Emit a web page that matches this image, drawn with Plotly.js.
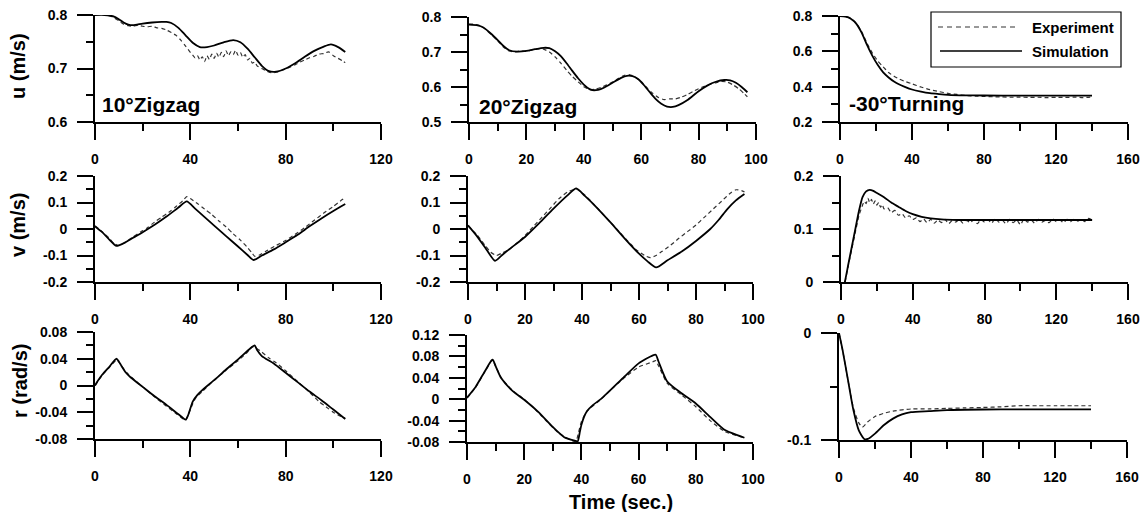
<!DOCTYPE html>
<html>
<head>
<meta charset="utf-8">
<script src="https://cdn.plot.ly/plotly-3.0.1.min.js"></script>
<style>html,body{margin:0;padding:0;background:#fff;}#chart{width:1144px;height:512px;}</style>
</head>
<body>
<div id="chart"></div>
<script>
// ---------------- DATA ----------------
// Row 1: surge velocity u (m/s)
const u10_sim_t = [0,4,8,10,12,14,16,20,24,28,30,32,35,38,41,44,47,50,54,58,61,64,67,70,73,76,80,84,88,92,96,99,102,105];
const u10_sim   = [0.800,0.800,0.797,0.792,0.786,0.782,0.781,0.784,0.786,0.787,0.787,0.785,0.776,0.762,0.748,0.740,0.740,0.743,0.749,0.753,0.749,0.737,0.721,0.705,0.695,0.694,0.700,0.710,0.722,0.733,0.741,0.745,0.740,0.731];
const u10_exp_t = [0,2,4,6,8,10,12,14,16,18,20,22,24,26,28,30,32,34,36,38,40,41,42,43,44,45,46,47,48,49,50,51,52,53,54,55,56,57,58,59,60,61,62,63,64,65,66,67,68,70,72,74,76,78,80,82,84,86,88,90,92,94,96,98,100,102,104,105];
const u10_exp   = [0.801,0.803,0.801,0.799,0.795,0.789,0.783,0.780,0.779,0.781,0.779,0.778,0.779,0.776,0.775,0.772,0.767,0.762,0.753,0.742,0.730,0.725,0.720,0.724,0.716,0.722,0.713,0.724,0.717,0.727,0.719,0.729,0.721,0.730,0.722,0.733,0.724,0.731,0.726,0.734,0.725,0.730,0.721,0.726,0.716,0.719,0.710,0.712,0.705,0.700,0.695,0.692,0.693,0.696,0.699,0.703,0.707,0.712,0.716,0.720,0.723,0.727,0.728,0.731,0.724,0.719,0.714,0.711];

const u20_sim_t = [0,3,5,8,10,12,14,17,20,23,26,28,30,32,34,36,38,40,42,43,45,47,50,53,55,57,59,61,63,65,67,69,71,73,76,80,83,86,89,91,93,95,97];
const u20_sim   = [0.778,0.776,0.770,0.750,0.734,0.717,0.705,0.701,0.703,0.708,0.712,0.711,0.702,0.688,0.668,0.646,0.625,0.607,0.594,0.591,0.592,0.598,0.612,0.626,0.632,0.631,0.622,0.605,0.585,0.566,0.552,0.544,0.543,0.548,0.562,0.588,0.604,0.615,0.620,0.619,0.612,0.600,0.585];
const u20_exp_t = [0,2,4,6,8,10,12,14,16,18,20,22,24,26,28,30,32,34,36,38,40,42,44,46,48,50,52,54,56,58,60,62,64,66,68,70,72,74,76,78,80,82,84,86,88,90,92,94,96,97];
const u20_exp   = [0.780,0.779,0.775,0.763,0.748,0.732,0.714,0.703,0.700,0.703,0.702,0.706,0.709,0.708,0.700,0.686,0.668,0.648,0.630,0.615,0.601,0.593,0.594,0.599,0.606,0.614,0.624,0.633,0.635,0.628,0.615,0.598,0.582,0.570,0.564,0.566,0.566,0.571,0.578,0.587,0.595,0.602,0.608,0.612,0.616,0.614,0.606,0.595,0.580,0.572];

const u30_sim_t = [0,3,6,9,12,15,18,21,24,27,30,33,36,40,45,50,55,60,70,80,100,120,140];
const u30_sim   = [0.800,0.797,0.785,0.757,0.706,0.636,0.574,0.522,0.481,0.452,0.429,0.412,0.399,0.384,0.372,0.363,0.358,0.354,0.351,0.350,0.349,0.349,0.349];
const u30_exp_t = [0,3,6,9,12,15,18,21,24,27,30,33,36,40,45,50,55,60,65,70,75,80,85,90,95,100,105,110,115,120,125,130,135,140];
const u30_exp   = [0.800,0.797,0.786,0.760,0.712,0.645,0.590,0.545,0.512,0.480,0.459,0.443,0.430,0.416,0.398,0.383,0.372,0.362,0.356,0.350,0.347,0.345,0.343,0.342,0.340,0.341,0.339,0.340,0.338,0.340,0.339,0.341,0.338,0.342];

// Row 2: sway velocity v (m/s)
const v10_sim_t = [0,3,6,9,12,16,20,25,30,35,38.5,42,46,50,55,60,64,66.5,70,75,80,85,90,95,100,105];
const v10_sim   = [0.010,-0.012,-0.040,-0.064,-0.054,-0.033,-0.012,0.016,0.047,0.081,0.104,0.077,0.045,0.013,-0.027,-0.066,-0.098,-0.117,-0.100,-0.077,-0.050,-0.022,0.010,0.040,0.068,0.094];
const v10_exp_t = [0,3,6,8,10,13,16,19,22,25,28,31,34,37,38.5,40,43,46,49,52,55,58,61,64,66,67,69,72,76,80,84,88,92,96,100,103,105];
const v10_exp   = [0.012,-0.010,-0.035,-0.055,-0.062,-0.048,-0.030,-0.012,0.005,0.026,0.045,0.063,0.085,0.108,0.122,0.115,0.096,0.075,0.055,0.030,0.008,-0.018,-0.042,-0.070,-0.092,-0.103,-0.098,-0.082,-0.062,-0.043,-0.020,0.005,0.033,0.060,0.085,0.106,0.118];

const v20_sim_t = [0,3,6,9.5,12,15,20,25,30,35,38,41,45,50,55,60,63,66,70,75,80,85,88,91,94,97];
const v20_sim   = [0.014,-0.025,-0.070,-0.120,-0.098,-0.072,-0.030,0.022,0.077,0.128,0.153,0.125,0.083,0.025,-0.036,-0.093,-0.122,-0.145,-0.118,-0.085,-0.045,0.000,0.035,0.075,0.108,0.132];
const v20_exp_t = [0,3,6,8,10,12,14,17,20,23,26,29,32,35,38,41,44,47,50,53,56,59,62,64,66,68,71,74,77,80,83,86,89,92,94,96,97];
const v20_exp   = [0.012,-0.020,-0.062,-0.088,-0.100,-0.090,-0.080,-0.055,-0.025,0.010,0.045,0.080,0.115,0.140,0.150,0.128,0.095,0.060,0.025,-0.010,-0.045,-0.078,-0.100,-0.108,-0.100,-0.085,-0.062,-0.035,-0.010,0.015,0.045,0.075,0.105,0.135,0.148,0.145,0.140];

const v30_sim_t = [0,2,4,6,8,10,12,14,16,18,20,24,28,32,36,40,45,50,56,65,80,100,120,140];
const v30_sim   = [-0.022,-0.002,0.032,0.066,0.100,0.134,0.160,0.171,0.174,0.172,0.168,0.160,0.150,0.142,0.134,0.128,0.123,0.120,0.118,0.117,0.117,0.117,0.117,0.117];
const v30_exp_t = [0,2,4,6,8,10,12,13,14,15,16,17,18,19,20,21,22,23,24,26,28,30,32,34,36,38,40,42,44,46,48,50,52,54,56,58,60,62,64,66,68,70,72,74,76,78,80,82,84,86,88,90,92,94,96,98,100,102,104,106,108,110,112,114,116,118,120,122,124,126,128,130,132,134,136,138,140];
const v30_exp   = [-0.025,-0.004,0.030,0.062,0.094,0.125,0.145,0.152,0.148,0.158,0.150,0.156,0.147,0.153,0.145,0.150,0.141,0.146,0.138,0.140,0.131,0.135,0.126,0.129,0.121,0.125,0.118,0.121,0.114,0.119,0.112,0.118,0.111,0.117,0.112,0.118,0.110,0.116,0.113,0.118,0.111,0.116,0.112,0.117,0.110,0.118,0.113,0.117,0.111,0.120,0.113,0.116,0.110,0.118,0.112,0.117,0.108,0.119,0.113,0.117,0.111,0.118,0.113,0.116,0.112,0.119,0.114,0.117,0.112,0.118,0.114,0.119,0.115,0.118,0.114,0.120,0.117];

// Row 3: yaw rate r (rad/s)
const r10_sim_t = [0,1,3,6,9,10,11,13,15,20,25,30,35,38,39,41,43,45,50,55,60,65,67,68,70,75,80,85,90,95,100,105];
const r10_sim   = [0.000,0.006,0.016,0.028,0.040,0.036,0.030,0.019,0.012,-0.002,-0.016,-0.029,-0.043,-0.051,-0.045,-0.024,-0.014,-0.007,0.008,0.024,0.039,0.055,0.060,0.053,0.044,0.033,0.019,0.005,-0.009,-0.022,-0.036,-0.050];
const r10_exp_t = [0,3,6,9,10,12,14,18,22,26,30,34,37,38,40,42,45,50,55,60,64,66,68,70,73,76,80,85,90,94,97,100,103,105];
const r10_exp   = [0.000,0.015,0.027,0.038,0.035,0.025,0.017,0.004,-0.008,-0.020,-0.031,-0.042,-0.050,-0.052,-0.036,-0.020,-0.009,0.008,0.023,0.037,0.050,0.058,0.055,0.050,0.041,0.034,0.022,0.006,-0.010,-0.024,-0.032,-0.040,-0.046,-0.049];

const r20_sim_t = [0,3,6,8.5,9,10,12,16,20,25,30,34,38,38.7,39.5,40,41,42,44,47,55,60,65,66,67,70,75,80,85,90,95,97];
const r20_sim   = [0.003,0.023,0.050,0.072,0.074,0.062,0.039,0.015,-0.001,-0.024,-0.052,-0.071,-0.078,-0.079,-0.060,-0.048,-0.032,-0.022,-0.011,0.001,0.042,0.067,0.082,0.083,0.070,0.033,0.011,-0.008,-0.033,-0.057,-0.068,-0.072];
const r20_exp_t = [0,3,6,8.5,9,10,12,16,20,24,28,32,35,38,39,40,42,46,50,55,60,64,65,66,67,70,75,80,85,90,95,97];
const r20_exp   = [0.002,0.022,0.049,0.071,0.073,0.062,0.040,0.016,0.000,-0.020,-0.042,-0.063,-0.073,-0.079,-0.062,-0.042,-0.022,-0.004,0.016,0.040,0.060,0.068,0.070,0.072,0.062,0.030,0.008,-0.014,-0.040,-0.060,-0.069,-0.072];

const r30_sim_t = [0,2,5,8,11,14,16,20,25,30,35,40,50,60,80,100,120,140];
const r30_sim   = [0,-0.016,-0.044,-0.072,-0.091,-0.099,-0.099,-0.094,-0.086,-0.080,-0.076,-0.074,-0.073,-0.072,-0.0715,-0.0714,-0.0714,-0.0714];
const r30_exp_t = [0,2,5,8,11,13,16,20,25,30,40,50,60,70,80,90,100,110,120,130,140];
const r30_exp   = [0,-0.016,-0.044,-0.070,-0.084,-0.088,-0.083,-0.078,-0.075,-0.073,-0.071,-0.071,-0.0705,-0.070,-0.0696,-0.069,-0.068,-0.068,-0.068,-0.068,-0.068];

// Tick values / labels
const xTicks120 = [0,40,80,120];      const xLabels120 = ['0','40','80','120'];
const xTicks100 = [0,20,40,60,80,100]; const xLabels100 = ['0','20','40','60','80','100'];
const xTicks160 = [0,40,80,120,160];  const xLabels160 = ['0','40','80','120','160'];
const yTicksU10 = [0.6,0.7,0.8];      const yLabelsU10 = ['0.6','0.7','0.8'];
const yTicksU20 = [0.5,0.6,0.7,0.8];  const yLabelsU20 = ['0.5','0.6','0.7','0.8'];
const yTicksU30 = [0.2,0.4,0.6,0.8];  const yLabelsU30 = ['0.2','0.4','0.6','0.8'];
const yTicksV   = [-0.2,-0.1,0,0.1,0.2]; const yLabelsV = ['-0.2','-0.1','0','0.1','0.2'];
const yTicksV30 = [0,0.1,0.2];        const yLabelsV30 = ['0','0.1','0.2'];
const yTicksR10 = [-0.08,-0.04,0,0.04,0.08]; const yLabelsR10 = ['-0.08','-0.04','0','0.04','0.08'];
const yTicksR20 = [-0.08,-0.04,0,0.04,0.08,0.12]; const yLabelsR20 = ['-0.08','-0.04','0','0.04','0.08','0.12'];
const yTicksR30 = [-0.1,0];           const yLabelsR30 = ['-0.1','0'];

const panelLabels = ['10°Zigzag','20°Zigzag','-30°Turning'];
const yTitles = ['u (m/s)','v (m/s)','r (rad/s)'];
const xTitle = 'Time (sec.)';
const seriesNames = ['Experiment','Simulation'];

// ---------------- BUILD ----------------
const FONT = 'Liberation Sans, Arial, Helvetica, sans-serif';
const W = 1144, H = 512;

const panels = [
  {t:[u10_exp_t,u10_sim_t], v:[u10_exp,u10_sim], xr:[0,120], xt:xTicks120, xl:xLabels120, xm:20, yr:[0.6,0.8], yt:yTicksU10, yl:yLabelsU10, ym:0.05, px:[95,381], py:[15,122]},
  {t:[u20_exp_t,u20_sim_t], v:[u20_exp,u20_sim], xr:[0,100], xt:xTicks100, xl:xLabels100, xm:10, yr:[0.5,0.8], yt:yTicksU20, yl:yLabelsU20, ym:0.05, px:[469,756], py:[17,122]},
  {t:[u30_exp_t,u30_sim_t], v:[u30_exp,u30_sim], xr:[0,160], xt:xTicks160, xl:xLabels160, xm:20, yr:[0.2,0.8], yt:yTicksU30, yl:yLabelsU30, ym:0.1, px:[840,1128], py:[16,122]},
  {t:[v10_exp_t,v10_sim_t], v:[v10_exp,v10_sim], xr:[0,120], xt:xTicks120, xl:xLabels120, xm:20, yr:[-0.2,0.2], yt:yTicksV, yl:yLabelsV, ym:0.05, px:[95,381], py:[176,282]},
  {t:[v20_exp_t,v20_sim_t], v:[v20_exp,v20_sim], xr:[0,100], xt:xTicks100, xl:xLabels100, xm:10, yr:[-0.2,0.2], yt:yTicksV, yl:yLabelsV, ym:0.05, px:[468,753], py:[176,282]},
  {t:[v30_exp_t,v30_sim_t], v:[v30_exp,v30_sim], xr:[0,160], xt:xTicks160, xl:xLabels160, xm:20, yr:[0,0.2], yt:yTicksV30, yl:yLabelsV30, ym:0.05, px:[841,1128], py:[176,282]},
  {t:[r10_exp_t,r10_sim_t], v:[r10_exp,r10_sim], xr:[0,120], xt:xTicks120, xl:xLabels120, xm:20, yr:[-0.08,0.08], yt:yTicksR10, yl:yLabelsR10, ym:0.02, px:[95,381], py:[332,439]},
  {t:[r20_exp_t,r20_sim_t], v:[r20_exp,r20_sim], xr:[0,100], xt:xTicks100, xl:xLabels100, xm:10, yr:[-0.08,0.12], yt:yTicksR20, yl:yLabelsR20, ym:0.02, px:[467,753], py:[335,442]},
  {t:[r30_exp_t,r30_sim_t], v:[r30_exp,r30_sim], xr:[0,160], xt:xTicks160, xl:xLabels160, xm:20, yr:[-0.1,0], yt:yTicksR30, yl:yLabelsR30, ym:0.05, px:[839,1127], py:[333,440]}
];

const tickFont = {family: FONT, size: 14, weight: 'bold', color: '#000'};
const traces = [];
const layout = {
  width: W, height: H,
  margin: {l:0, r:0, t:0, b:0},
  paper_bgcolor: '#fff', plot_bgcolor: '#fff',
  showlegend: false,
  font: {family: FONT, color: '#000'},
  annotations: [], shapes: []
};

panels.forEach((p, i) => {
  const n = i + 1;
  const xa = 'x' + (n === 1 ? '' : n), ya = 'y' + (n === 1 ? '' : n);
  const styles = [
    {color: '#333', width: 1.2, dash: '4px,3px'},
    {color: '#000', width: 1.8, dash: 'solid'}
  ];
  [0, 1].forEach(k => {
    traces.push({
      type: 'scatter', mode: 'lines', name: seriesNames[k],
      x: p.t[k], y: p.v[k], xaxis: xa, yaxis: ya,
      line: Object.assign({shape: 'spline', smoothing: 0.6}, styles[k]),
      hoverinfo: 'skip'
    });
  });
  const common = {
    tickmode: 'array', ticks: 'outside', ticklen: 16, tickwidth: 2, tickcolor: '#000',
    showline: true, linecolor: '#000', linewidth: 2, showgrid: false, zeroline: false,
    tickfont: tickFont, fixedrange: true
  };
  layout['xaxis' + (n === 1 ? '' : n)] = Object.assign({}, common, {
    domain: [p.px[0] / W, p.px[1] / W], range: p.xr, tickvals: p.xt, ticktext: p.xl,
    anchor: ya, ticklabelstandoff: 7,
    minor: {dtick: p.xm, tick0: 0, ticks: 'outside', ticklen: 7, tickwidth: 2, tickcolor: '#000', showgrid: false}
  });
  layout['yaxis' + (n === 1 ? '' : n)] = Object.assign({}, common, {
    domain: [1 - p.py[1] / H, 1 - p.py[0] / H], range: p.yr, tickvals: p.yt, ticktext: p.yl,
    anchor: xa, ticklabelstandoff: 7,
    minor: {dtick: p.ym, tick0: 0, ticks: 'outside', ticklen: 7, tickwidth: 2, tickcolor: '#000', showgrid: false}
  });
});

// panel labels (top row)
const labelPos = [{x:0.017, y:0.16}, {x:0.028, y:0.15}, {x:0.024, y:0.17}];
panelLabels.forEach((txt, i) => {
  const n = i + 1;
  layout.annotations.push({
    text: txt, xref: 'x' + (n === 1 ? '' : n) + ' domain', yref: 'y' + (n === 1 ? '' : n) + ' domain',
    x: labelPos[i].x, y: labelPos[i].y, xanchor: 'left', yanchor: 'middle', showarrow: false,
    font: {family: FONT, size: 21, weight: 'bold', color: '#000'}
  });
});

// y titles
const yTitlePos = [{x:18, y:66}, {x:18, y:225}, {x:20, y:381}];
yTitles.forEach((txt, i) => {
  layout.annotations.push({
    text: txt, xref: 'paper', yref: 'paper', x: yTitlePos[i].x / W, y: 1 - yTitlePos[i].y / H,
    xanchor: 'center', yanchor: 'middle', textangle: -90, showarrow: false,
    font: {family: FONT, size: 20, weight: 'bold', color: '#000'}
  });
});
// x title
layout.annotations.push({
  text: xTitle, xref: 'paper', yref: 'paper', x: 621 / W, y: 1 - 502 / H,
  xanchor: 'center', yanchor: 'middle', showarrow: false,
  font: {family: FONT, size: 20, weight: 'bold', color: '#000'}
});

// legend box (custom)
layout.shapes.push({type:'rect', xref:'paper', yref:'paper', x0:931/W, x1:1121/W, y0:1-67/H, y1:1-12/H, line:{color:'#000', width:1.2}, fillcolor:'#fff'});
layout.shapes.push({type:'line', xref:'paper', yref:'paper', x0:938/W, x1:1018/W, y0:1-27/H, y1:1-27/H, line:{color:'#333', width:1.2, dash:'5px,4px'}});
layout.shapes.push({type:'line', xref:'paper', yref:'paper', x0:940/W, x1:1022/W, y0:1-51/H, y1:1-51/H, line:{color:'#000', width:1.5}});
seriesNames.forEach((txt, k) => {
  layout.annotations.push({
    text: txt, xref:'paper', yref:'paper', x: 1030/W, y: 1 - (k === 0 ? 27 : 51)/H,
    xanchor:'left', yanchor:'middle', showarrow:false,
    font:{family: FONT, size: 15, weight:'bold', color:'#000'}
  });
});

Plotly.newPlot('chart', traces, layout, {staticPlot: true, displayModeBar: false});
</script>
</body>
</html>
